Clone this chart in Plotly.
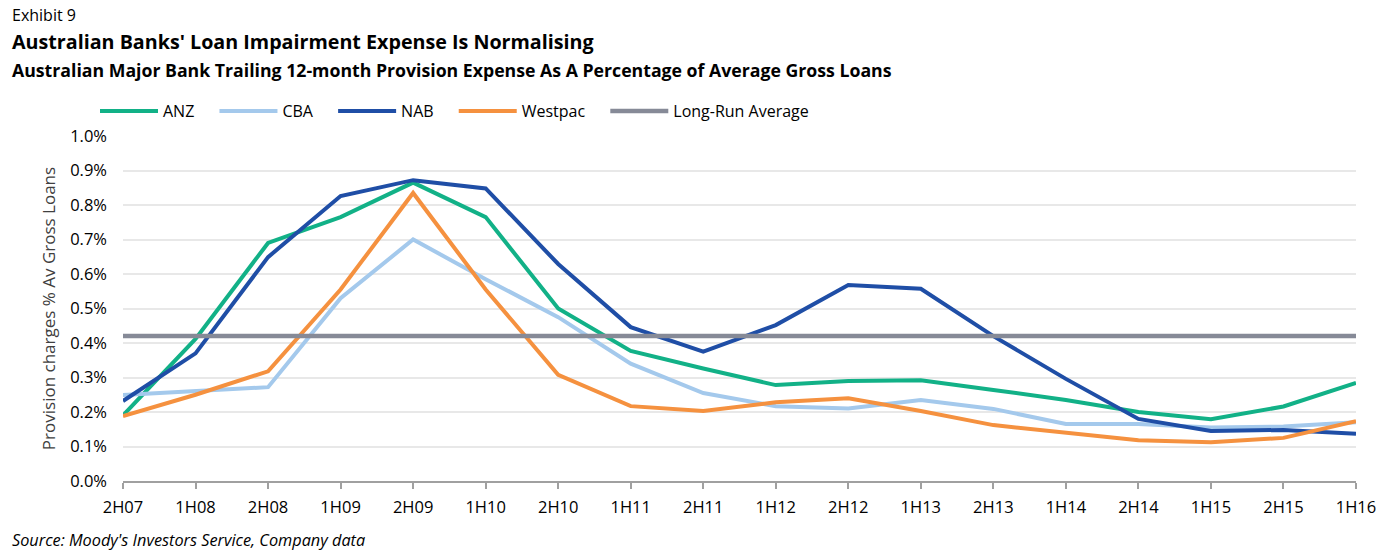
import plotly.graph_objects as go

periods = ["2H07", "1H08", "2H08", "1H09", "2H09", "1H10", "2H10", "1H11", "2H11",
           "1H12", "2H12", "1H13", "2H13", "1H14", "2H14", "1H15", "2H15", "1H16"]
anz = [0.190, 0.412, 0.690, 0.765, 0.865, 0.765, 0.500, 0.377, 0.326, 0.278, 0.290, 0.292,
       0.264, 0.235, 0.200, 0.179, 0.216, 0.284]
cba = [0.249, 0.260, 0.272, 0.530, 0.700, 0.585, 0.475, 0.340, 0.255, 0.217, 0.210, 0.235,
       0.209, 0.165, 0.165, 0.155, 0.158, 0.170]
nab = [0.232, 0.370, 0.649, 0.826, 0.872, 0.848, 0.629, 0.446, 0.375, 0.452, 0.568, 0.557,
       0.420, 0.296, 0.180, 0.145, 0.148, 0.137]
westpac = [0.188, 0.250, 0.318, 0.555, 0.835, 0.555, 0.308, 0.217, 0.203, 0.228, 0.240, 0.203,
           0.162, 0.140, 0.118, 0.112, 0.125, 0.173]
long_run = [0.42] * len(periods)

series = [
    ("ANZ", anz, "#12b187"),
    ("CBA", cba, "#a4c9ec"),
    ("NAB", nab, "#1f4ea6"),
    ("Westpac", westpac, "#f5913f"),
    ("Long-Run Average", long_run, "#868a97"),
]

PAD = "\u00a0\u00a0\u00a0\u2009"
xpos = list(range(len(periods)))
fig = go.Figure()
for name, vals, color in series:
    fig.add_trace(go.Scatter(x=xpos, y=vals, name=name + PAD, mode="lines",
                             line=dict(color=color, width=4.5 if name.startswith("Long") else 4)))

FONT = "Open Sans"
W, H = 1388, 557
L, R, T, B = 123, 32, 136, 76
PW, PH = W - L - R, H - T - B

def py(pix):
    return 1 - (pix - T) / PH

def px(pix):
    return (pix - L) / PW

fig.update_layout(
    width=W, height=H,
    margin=dict(l=L, r=R, t=T, b=B, autoexpand=False),
    paper_bgcolor="white", plot_bgcolor="white",
    font=dict(family=FONT, color="#000000", size=15),
    showlegend=True,
    legend=dict(orientation="h", x=px(95), y=py(111), xanchor="left", yanchor="middle",
                font=dict(size=16), itemwidth=58, traceorder="normal"),
)
fig.update_xaxes(
    tickmode="array", tickvals=xpos, ticktext=periods, range=[0, len(periods) - 1],
    showgrid=False, showline=True, linecolor="#a0a0a0", linewidth=2,
    ticks="outside", ticklen=6, tickcolor="#a0a0a0", tickwidth=1.5, tickfont=dict(size=16.5),
    zeroline=False, ticklabelstandoff=4,
)
fig.update_yaxes(
    range=[0, 1.0], tickvals=[i / 10 for i in range(11)],
    ticktext=[f"{i/10:.1f}%" for i in range(11)],
    showgrid=True, gridcolor="#e8e8e8", gridwidth=1.5, zeroline=False,
    tickfont=dict(size=16.5), ticks="", ticklabelstandoff=15,
    title=dict(text="Provision charges % Av Gross Loans", font=dict(size=17, color="#404040"), standoff=10),
)
fig.add_annotation(text="Exhibit 9", xref="paper", yref="paper", x=px(10), y=py(15),
                   xanchor="left", yanchor="middle", showarrow=False, font=dict(size=16, family=FONT))
fig.add_annotation(text="<b>Australian Banks' Loan Impairment Expense Is Normalising</b>", xref="paper", yref="paper",
                   x=px(10), y=py(42), xanchor="left", yanchor="middle", showarrow=False,
                   font=dict(size=19.7, family=FONT))
fig.add_annotation(text="<b>Australian Major Bank Trailing 12-month Provision Expense As A Percentage of Average Gross Loans</b>",
                   xref="paper", yref="paper", x=px(10), y=py(70), xanchor="left", yanchor="middle",
                   showarrow=False, font=dict(size=17.7, family=FONT))
fig.add_annotation(text="<i>Source: Moody's Investors Service, Company data</i>", xref="paper", yref="paper",
                   x=px(10), y=py(540), xanchor="left", yanchor="middle", showarrow=False,
                   font=dict(size=16.3, family=FONT))
fig.write_html("out.html", config={"displayModeBar": False},
               post_script="document.body.style.margin='0px';")
